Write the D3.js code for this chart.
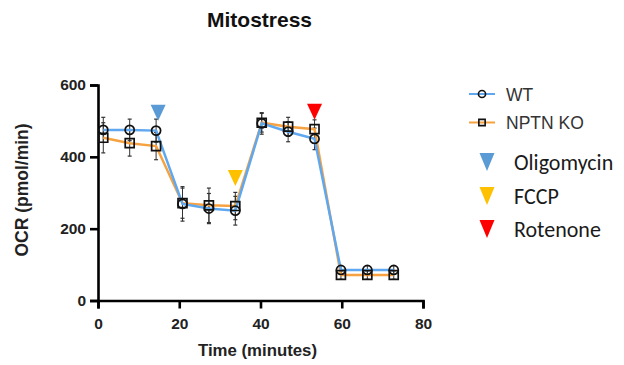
<!DOCTYPE html>
<html>
<head>
<meta charset="utf-8">
<script src="https://cdn.jsdelivr.net/npm/d3@7"></script>
<style>
  body { margin: 0; background: #fff; }
  svg text { font-family: "Liberation Sans", Arial, sans-serif; }
</style>
</head>
<body>
<svg id="chart" width="624" height="365"></svg>
<script>
// data
const times = [1.3, 7.8, 14.3, 20.8, 27.3, 33.8, 40.3, 46.8, 53.3, 59.8, 66.3, 72.8]
const wtValues = [475, 475, 473, 269, 256, 250, 493, 470, 450, 85, 85, 85]
const wtErr = [35, 30, 32, 48, 42, 40, 30, 28, 30, 12, 12, 12]
const koValues = [453, 438, 430, 271, 265, 263, 495, 484, 477, 71, 71, 71]
const koErr = [42, 36, 38, 42, 48, 38, 26, 26, 26, 12, 12, 12]
const xTicks = [0, 20, 40, 60, 80]
const yTicks = [0, 200, 400, 600]
const injections = [
  {name: "Oligomycin", time: 14.8, value: 545, color: "#5b9bd5"},
  {name: "FCCP", time: 33.8, value: 363, color: "#ffc000"},
  {name: "Rotenone", time: 53.3, value: 548, color: "#ff0000"}
]

let svg = d3.select("#chart")

let x = d3.scaleLinear().domain([0, 80]).range([98, 423])
let y = d3.scaleLinear().domain([0, 600]).range([300.5, 85])

// axes
let xaxis = d3.axisBottom(x).tickValues(xTicks).tickSize(8).tickPadding(9)
let yaxis = d3.axisLeft(y).tickValues(yTicks).tickSize(8).tickPadding(4)

let gx = svg.append("g")
  .attr("transform", "translate(0," + y(0) + ")")
  .call(xaxis)
let gy = svg.append("g")
  .attr("transform", "translate(" + x(0) + ",0)")
  .call(yaxis)

for (let g of [gx, gy]) {
  g.select(".domain").attr("stroke", "#000").attr("stroke-width", 2.6)
  g.selectAll(".tick line").attr("stroke", "#000").attr("stroke-width", 2.6)
  g.selectAll(".tick text")
    .attr("fill", "#222")
    .style("font-size", "15.5px")
    .style("font-weight", "bold")
}

// titles
svg.append("text")
  .attr("x", 259.5).attr("y", 27)
  .attr("text-anchor", "middle")
  .style("font-size", "21px").style("font-weight", "bold")
  .attr("fill", "#111")
  .text("Mitostress")

svg.append("text")
  .attr("transform", "translate(28,190) rotate(-90)")
  .attr("text-anchor", "middle")
  .style("font-size", "17.5px").style("font-weight", "bold")
  .attr("fill", "#222")
  .text("OCR (pmol/min)")

svg.append("text")
  .attr("x", 257.5).attr("y", 356)
  .attr("text-anchor", "middle")
  .style("font-size", "16.8px").style("font-weight", "bold")
  .attr("fill", "#222")
  .text("Time (minutes)")

// series
let series = [
  {name: "WT", values: wtValues, err: wtErr, color: "#5fa8f0", shape: d3.symbolCircle},
  {name: "NPTN KO", values: koValues, err: koErr, color: "#f7a241", shape: d3.symbolSquare}
]

let line = d3.line().x(d => x(d[0])).y(d => y(d[1]))

// error bars first
series.forEach(s => {
  let pts = times.map((t, i) => ({t: t, v: s.values[i], e: s.err[i]}))
  let eb = svg.append("g")
  eb.selectAll("line.v").data(pts).enter().append("line")
    .attr("x1", d => x(d.t)).attr("x2", d => x(d.t))
    .attr("y1", d => y(d.v - d.e)).attr("y2", d => y(d.v + d.e))
    .attr("stroke", "#333").attr("stroke-width", 1)
  eb.selectAll("line.cap").data(pts.flatMap(d => [d.v - d.e, d.v + d.e].map(v => ({t: d.t, v: v})))).enter().append("line")
    .attr("x1", d => x(d.t) - 2).attr("x2", d => x(d.t) + 2)
    .attr("y1", d => y(d.v)).attr("y2", d => y(d.v))
    .attr("stroke", "#333").attr("stroke-width", 1.2)
})

// KO drawn first, WT on top
series.slice().reverse().forEach(s => {
  svg.append("path")
    .datum(times.map((t, i) => [t, s.values[i]]))
    .attr("d", line)
    .attr("fill", "none")
    .attr("stroke", s.color)
    .attr("stroke-width", 2.5)
})

series.slice().reverse().forEach(s => {
  let sym = d3.symbol().type(s.shape).size(s.shape === d3.symbolSquare ? 80 : 65)
  svg.append("g").selectAll("path")
    .data(times.map((t, i) => [t, s.values[i]]))
    .enter().append("path")
    .attr("d", sym)
    .attr("transform", d => "translate(" + x(d[0]) + "," + y(d[1]) + ")")
    .attr("fill", "none")
    .attr("stroke", "#111")
    .attr("stroke-width", 1.7)
})

// injection triangles
let tri = (cx, top, w, h) => `M${cx - w / 2},${top}L${cx + w / 2},${top}L${cx},${top + h}Z`
svg.append("g").selectAll("path")
  .data(injections)
  .enter().append("path")
  .attr("d", d => tri(x(d.time), y(d.value), 15, 16))
  .attr("fill", d => d.color)

// legend
let leg = svg.append("g")
series.forEach((s, i) => {
  let ly = 94 + i * 28.5
  leg.append("line")
    .attr("x1", 469).attr("x2", 495).attr("y1", ly).attr("y2", ly)
    .attr("stroke", s.color).attr("stroke-width", 2)
  leg.append("path")
    .attr("d", d3.symbol().type(s.shape).size(40))
    .attr("transform", "translate(482," + ly + ")")
    .attr("fill", "none").attr("stroke", "#111").attr("stroke-width", 1.6)
  leg.append("text")
    .attr("x", 506).attr("y", ly + 6.5)
    .style("font-size", "17.5px").attr("fill", "#333")
    .text(s.name)
})

let legTri = [162, 196, 229]
injections.forEach((d, i) => {
  leg.append("path")
    .attr("d", tri(487, legTri[i] - 9, 15, 18))
    .attr("fill", d.color)
  leg.append("text")
    .attr("x", 514).attr("y", legTri[i] + 7.5)
    .style("font-size", "22px").attr("fill", "#1a1a1a")
    .style("font-family", "Carlito, Calibri, Lato, 'Liberation Sans', sans-serif")
    .text(d.name)
})
</script>
</body>
</html>
